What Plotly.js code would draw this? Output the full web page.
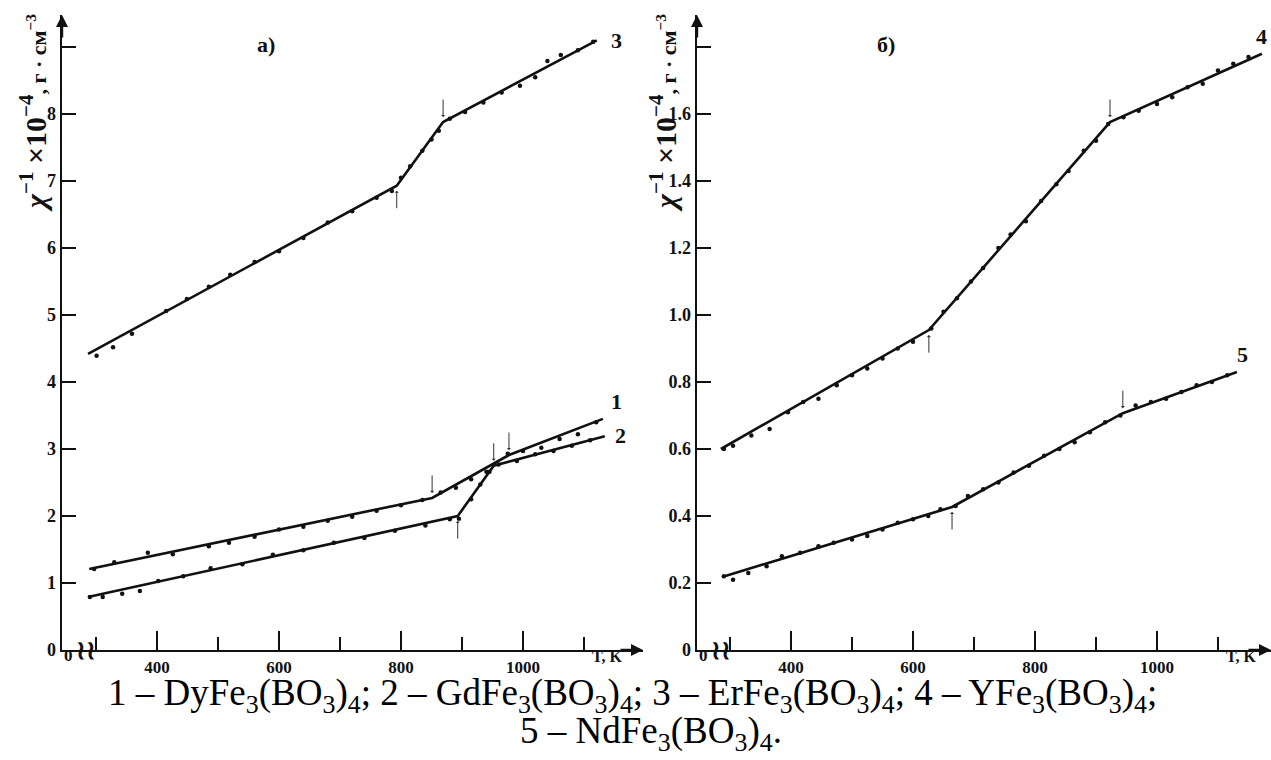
<!DOCTYPE html>
<html><head><meta charset="utf-8">
<script src="https://cdn.plot.ly/plotly-3.0.1.min.js"></script>
<style>html,body{margin:0;padding:0;background:#fff;}#chart{width:1271px;height:760px;}</style>
</head><body><div id="chart"></div>
<script>
// ---- Data (panel а) ----
const T1 = [297,330,385,426,485,518,560,600,640,680,720,760,800,835,865,890,915,940,975,1000,1030,1060,1090,1120];
const chi1 = [1.21,1.31,1.45,1.43,1.55,1.60,1.69,1.80,1.84,1.93,1.99,2.08,2.16,2.24,2.35,2.42,2.55,2.66,2.93,2.97,3.02,3.15,3.22,3.40];
const fitT1 = [289,851,977,1131];
const fitChi1 = [1.21,2.27,2.91,3.45];

const T2 = [290,311,343,372,402,443,488,540,590,640,690,740,790,840,880,895,915,930,945,960,990,1020,1050,1080,1110];
const chi2 = [0.79,0.79,0.84,0.88,1.03,1.10,1.22,1.28,1.42,1.49,1.60,1.67,1.78,1.86,1.95,1.96,2.25,2.47,2.66,2.77,2.82,2.92,2.97,3.05,3.13];
const fitT2 = [287,893,952,1134];
const fitChi2 = [0.79,2.00,2.75,3.19];

const T3 = [301,328,359,415,449,485,520,560,600,640,680,720,760,785,800,815,835,850,862,880,905,935,965,995,1020,1040,1062,1090,1115];
const chi3 = [4.39,4.52,4.72,5.06,5.24,5.42,5.60,5.79,5.95,6.15,6.38,6.55,6.75,6.85,7.05,7.22,7.45,7.62,7.75,7.93,8.03,8.17,8.32,8.42,8.55,8.79,8.88,8.95,9.08];
const fitT3 = [287,793,869,1121];
const fitChi3 = [4.42,6.93,7.88,9.10];

// ---- Data (panel б) ----
const T4 = [290,305,335,365,395,420,445,475,500,525,550,575,600,630,650,672,695,715,740,760,785,810,835,855,880,900,920,945,970,1000,1025,1050,1075,1100,1125,1150];
const chi4 = [0.60,0.61,0.64,0.66,0.71,0.74,0.75,0.79,0.82,0.84,0.87,0.90,0.92,0.96,1.01,1.05,1.10,1.14,1.20,1.24,1.28,1.34,1.39,1.43,1.49,1.52,1.57,1.59,1.61,1.63,1.65,1.68,1.69,1.73,1.75,1.77];
const fitT4 = [285,626,923,1172];
const fitChi4 = [0.60,0.955,1.576,1.78];

const T5 = [290,305,330,360,385,415,445,470,500,525,550,575,600,625,645,670,690,715,740,765,790,815,840,865,890,915,940,965,990,1015,1040,1065,1090,1115];
const chi5 = [0.22,0.21,0.23,0.25,0.28,0.29,0.31,0.32,0.33,0.34,0.36,0.38,0.39,0.40,0.42,0.43,0.46,0.48,0.50,0.53,0.55,0.58,0.60,0.62,0.65,0.68,0.70,0.73,0.74,0.75,0.77,0.79,0.80,0.82];
const fitT5 = [287,664,944,1131];
const fitChi5 = [0.218,0.427,0.707,0.83];

const curveLabels = ['1','2','3','4','5'];
const xTicksMajor = [400,600,800,1000];
const xTicksMinor = [300,500,700,900,1100];
const yTicksA = [0,1,2,3,4,5,6,7,8,9];
const yTextA = ['0','1','2','3','4','5','6','7','8',''];
const yTicksB = [0,0.2,0.4,0.6,0.8,1.0,1.2,1.4,1.6,1.8];
const yTextB = ['0','0.2','0.4','0.6','0.8','1.0','1.2','1.4','1.6',''];
const captionLine1 = '1 – DyFe<sub>3</sub>(BO<sub>3</sub>)<sub>4</sub>; 2 – GdFe<sub>3</sub>(BO<sub>3</sub>)<sub>4</sub>; 3 – ErFe<sub>3</sub>(BO<sub>3</sub>)<sub>4</sub>; 4 – YFe<sub>3</sub>(BO<sub>3</sub>)<sub>4</sub>;';
const captionLine2 = '5 – NdFe<sub>3</sub>(BO<sub>3</sub>)<sub>4</sub>.';
const yTitle = '<i>χ</i><sup>−1</sup> ×10<sup>−4</sup><span style="font-size:22px">, г · см<sup>−3</sup></span>';

// ---- Build ----
const SERIF = 'Liberation Serif, Times New Roman, serif';
const black = '#111';
const curves = [
  {T:T1, c:chi1, fT:fitT1, fC:fitChi1, ax:'x', ay:'y', arrows:[-1,-1], lab:[14,17]},
  {T:T2, c:chi2, fT:fitT2, fC:fitChi2, ax:'x', ay:'y', arrows:[1,-1], lab:[16,1]},
  {T:T3, c:chi3, fT:fitT3, fC:fitChi3, ax:'x', ay:'y', arrows:[1,-1], lab:[20,0]},
  {T:T4, c:chi4, fT:fitT4, fC:fitChi4, ax:'x2', ay:'y2', arrows:[1,-1], lab:[0,17]},
  {T:T5, c:chi5, fT:fitT5, fC:fitChi5, ax:'x2', ay:'y2', arrows:[1,-1], lab:[6,17]}
];
const traces = [];
const annotations = [];
curves.forEach((cv,i)=>{
  traces.push({x:cv.fT, y:cv.fC, xaxis:cv.ax, yaxis:cv.ay, mode:'lines', line:{color:black,width:2.6}, hoverinfo:'skip', showlegend:false});
  traces.push({x:cv.T, y:cv.c, xaxis:cv.ax, yaxis:cv.ay, mode:'markers', marker:{color:black,size:4.5}, showlegend:false});
  [1,2].forEach((k,j)=>{
    const dir = cv.arrows[j];
    annotations.push({x:cv.fT[k], y:cv.fC[k], xref:cv.ax, yref:cv.ay, text:'', showarrow:true,
      ax:0, ay: dir<0 ? -24 : 24, standoff:5, arrowhead:1, arrowsize:0.7, arrowwidth:1, arrowcolor:'#333'});
  });
  const n = cv.fT.length-1;
  annotations.push({x:cv.fT[n], y:cv.fC[n], xref:cv.ax, yref:cv.ay, text:'<b>'+curveLabels[i]+'</b>', showarrow:false,
    xshift:cv.lab[0], yshift:cv.lab[1], font:{family:SERIF, size:22, color:black}});
});

function axisArrows(xa, ya){
  const xd = xa+' domain', yd = ya+' domain';
  annotations.push({xref:xd, yref:yd, x:0, y:1, text:'', showarrow:true, ax:0, ay:24, arrowhead:2, arrowsize:1, arrowwidth:2.4, arrowcolor:black, standoff:0});
  annotations.push({xref:xd, yref:yd, x:1, y:0, text:'', showarrow:true, ax:-24, ay:0, arrowhead:2, arrowsize:1, arrowwidth:2.4, arrowcolor:black, standoff:0});
  annotations.push({xref:xd, yref:yd, x:0, y:0, text:'<b>0</b>', showarrow:false, yshift:-17, font:{family:SERIF,size:17,color:black}});
  annotations.push({xref:xd, yref:yd, x:0.022, y:0, text:'<b>≀≀</b>', showarrow:false, yshift:-16, font:{family:'DejaVu Serif',size:26,color:black}, borderpad:0});
  annotations.push({xref:xa, yref:yd, x:1137, y:0, text:'<b>T, K</b>', showarrow:false, yshift:-17, font:{family:SERIF,size:16,color:black}});
}
axisArrows('x','y');
axisArrows('x2','y2');

// y titles
annotations.push({xref:'paper', yref:'paper', x:33/1271, y:(760-113)/760, text:'<b>'+yTitle+'</b>', textangle:-90, showarrow:false, xanchor:'center', yanchor:'middle', font:{family:SERIF,size:30,color:black}});
annotations.push({xref:'paper', yref:'paper', x:663/1271, y:(760-113)/760, text:'<b>'+yTitle+'</b>', textangle:-90, showarrow:false, xanchor:'center', yanchor:'middle', font:{family:SERIF,size:30,color:black}});
// panel labels
annotations.push({xref:'paper', yref:'paper', x:255/1271, y:(760-30)/760, text:'<b>а)</b>', showarrow:false, font:{family:SERIF,size:22,color:black}});
annotations.push({xref:'paper', yref:'paper', x:897/1271, y:(760-30)/760, text:'<b>б)</b>', showarrow:false, font:{family:SERIF,size:22,color:black}});
// caption
annotations.push({xref:'paper', yref:'paper', x:632/1271, y:(760-721)/760, text:captionLine1, showarrow:false, font:{family:SERIF,size:37,color:'#000'}});
annotations.push({xref:'paper', yref:'paper', x:651/1271, y:(760-759)/760, text:captionLine2, showarrow:false, font:{family:SERIF,size:37,color:'#000'}});

const tickFont = {family:SERIF, size:18, color:black, weight:'bold'};
function xAxis(domain, range){
  return {domain:domain, range:range, showgrid:false, zeroline:false, showline:true, linecolor:black, linewidth:2.4,
    tickmode:'array', tickvals:xTicksMajor, ticktext:xTicksMajor.map(String), ticks:'inside', ticklen:19, tickwidth:2, tickcolor:black,
    minor:{tickmode:'array', tickvals:xTicksMinor, ticks:'inside', ticklen:13, tickwidth:2, tickcolor:black, showgrid:false},
    tickfont:{family:SERIF,size:17,color:black,weight:'bold'}, fixedrange:true};
}
function yAxis(anchor, range, vals, txt){
  return {domain:[110/760, 745/760], range:range, anchor:anchor, showgrid:false, zeroline:false, showline:true, linecolor:black, linewidth:2.4,
    tickmode:'array', tickvals:vals, ticktext:txt, ticks:'inside', ticklen:14, tickwidth:2, tickcolor:black, tickfont:tickFont, fixedrange:true};
}
const layout = {
  width:1271, height:760, margin:{l:0,r:0,t:0,b:0}, paper_bgcolor:'#fff', plot_bgcolor:'rgba(0,0,0,0)', showlegend:false,
  xaxis: Object.assign(xAxis([62/1271, 643/1271], [244.3, 1196.7]), {anchor:'y'}),
  xaxis2: Object.assign(xAxis([697/1271, 1], [245.9, 1186.9]), {anchor:'y2'}),
  yaxis: yAxis('x', [0, 635/67], yTicksA, yTextA),
  yaxis2: yAxis('x2', [0, 635/335], yTicksB, yTextB),
  annotations: annotations
};
Plotly.newPlot('chart', traces, layout, {displayModeBar:false, staticPlot:true});
</script></body></html>
